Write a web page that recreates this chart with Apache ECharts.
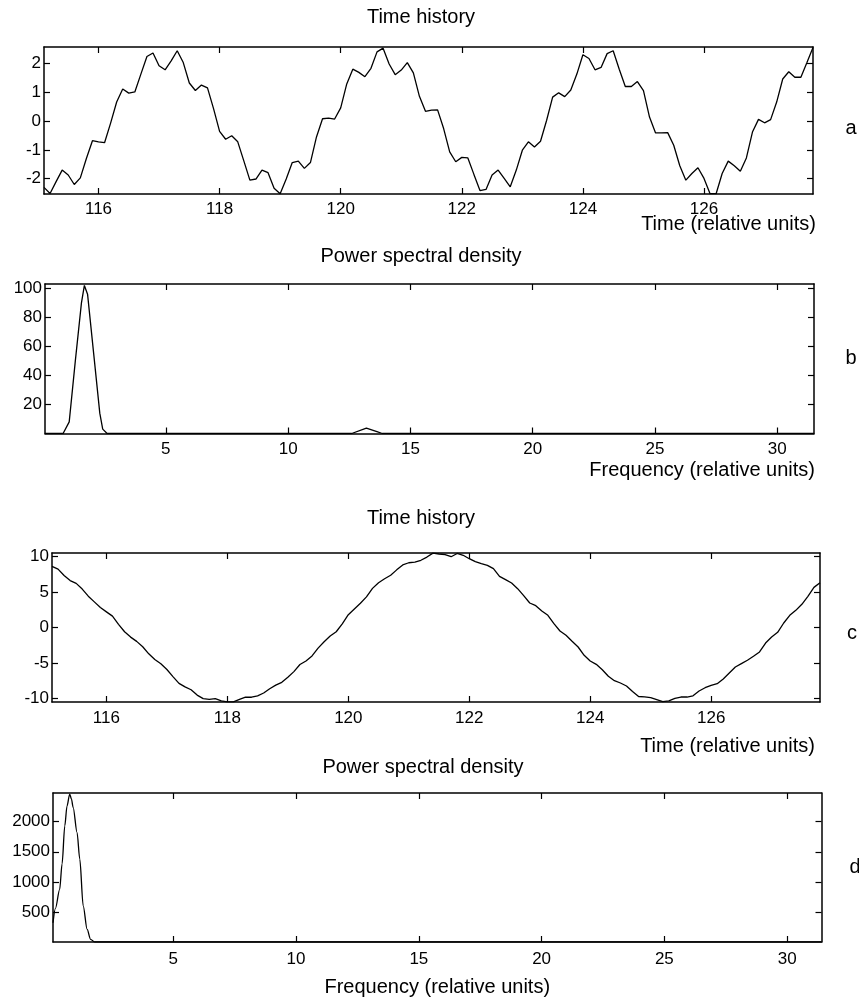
<!DOCTYPE html>
<html>
<head>
<meta charset="utf-8">
<title>Time history and power spectral density</title>
<script src="https://cdn.jsdelivr.net/npm/echarts@6/dist/echarts.min.js"></script>
<style>
  html, body { margin: 0; padding: 0; background: #fff; }
  #chart { width: 859px; height: 1005px; }
</style>
</head>
<body>
<div id="chart"></div>
<script>
// time histories are sampled every 0.1 from 115.1 to 127.8
var T_START = 115.1
var T_STEP = 0.1

var histA = [
  -2.30, -2.51, -2.10, -1.70, -1.87, -2.20, -1.97, -1.30, -0.68, -0.72,
  -0.75, -0.07, 0.66, 1.11, 0.97, 1.01, 1.63, 2.24, 2.36, 1.92,
  1.78, 2.09, 2.44, 2.03, 1.32, 1.06, 1.25, 1.15, 0.43, -0.36,
  -0.63, -0.51, -0.72, -1.38, -2.05, -2.01, -1.70, -1.79, -2.33, -2.52,
  -2.01, -1.44, -1.39, -1.64, -1.44, -0.55, 0.08, 0.10, 0.07, 0.46,
  1.29, 1.80, 1.69, 1.54, 1.83, 2.40, 2.53, 1.98, 1.61, 1.77,
  2.03, 1.67, 0.86, 0.34, 0.38, 0.39, -0.26, -1.07, -1.41, -1.26,
  -1.28, -1.85, -2.41, -2.37, -1.87, -1.70, -1.99, -2.28, -1.70, -1.01,
  -0.72, -0.90, -0.70, 0.02, 0.83, 0.98, 0.85, 1.08, 1.63, 2.30,
  2.17, 1.78, 1.86, 2.34, 2.44, 1.80, 1.20, 1.20, 1.37, 1.06,
  0.14, -0.41, -0.41, -0.40, -0.84, -1.55, -2.05, -1.82, -1.62, -1.99,
  -2.52, -2.52, -1.82, -1.39, -1.55, -1.74, -1.28, -0.38, 0.06, -0.06,
  0.05, 0.66, 1.46, 1.71, 1.52, 1.52, 2.03, 2.55
]

var histC = [
  8.6, 8.2, 7.3, 6.6, 6.2, 5.4, 4.4, 3.6, 2.8, 2.2,
  1.6, 0.45, -0.6, -1.35, -1.95, -2.7, -3.7, -4.5, -5.1, -5.9,
  -6.9, -7.85, -8.35, -8.75, -9.5, -10.0, -10.1, -10.0, -10.3, -10.45,
  -10.45, -10.1, -9.8, -9.8, -9.6, -9.2, -8.6, -8.1, -7.7, -7.0,
  -6.2, -5.2, -4.7, -4.0, -2.9, -2.0, -1.2, -0.6, 0.5, 1.8,
  2.6, 3.4, 4.3, 5.5, 6.3, 6.85, 7.35, 8.1, 8.8, 9.1,
  9.2, 9.45, 9.9, 10.45, 10.33, 10.23, 9.95, 10.4, 10.15, 9.67,
  9.25, 8.97, 8.74, 8.27, 7.19, 6.72, 6.25, 5.46, 4.48, 3.44,
  3.07, 2.32, 1.71, 0.54, -0.49, -1.1, -1.94, -2.74, -3.91, -4.71,
  -5.18, -5.93, -6.86, -7.47, -7.8, -8.22, -9.0, -9.7, -9.75, -9.86,
  -10.14, -10.42, -10.3, -9.95, -9.77, -9.77, -9.6, -8.93, -8.46, -8.13,
  -7.9, -7.24, -6.39, -5.55, -5.08, -4.61, -4.05, -3.44, -2.18, -1.34,
  -0.68, 0.63, 1.71, 2.41, 3.26, 4.38, 5.64, 6.3
]

var freqB = [0.06, 0.8, 1.05, 1.3, 1.55, 1.67, 1.8, 2.05, 2.3, 2.42, 2.6, 12.6, 13.2, 13.63, 13.85, 31.5]
var psdB = [0, 0, 8, 50, 90, 102, 96, 55, 14, 3, 0, 0, 3.7, 1.3, 0, 0]

var freqD = [0.1, 0.2, 0.37, 0.47, 0.58, 0.67, 0.78, 0.85, 0.92, 1.08, 1.19, 1.33, 1.49, 1.63, 1.8, 31.4]
var psdD = [320, 560, 870, 1300, 1930, 2260, 2460, 2380, 2240, 1820, 1380, 600, 210, 45, 0, 0]

var timeTicks = [116, 118, 120, 122, 124, 126]
var freqTicks = [5, 10, 15, 20, 25, 30]
var ticksA = [-2, -1, 0, 1, 2]
var ticksB = [20, 40, 60, 80, 100]
var ticksC = [-10, -5, 0, 5, 10]
var ticksD = [500, 1000, 1500, 2000]

var FONT = '"Liberation Sans", Arial, Helvetica, sans-serif'

function timePairs(vals) {
  return vals.map(function (v, i) {
    return [+(T_START + i * T_STEP).toFixed(1), v]
  })
}

function zipPairs(xs, ys) {
  return xs.map(function (x, i) { return [x, ys[i]] })
}

// one boxed panel: position, ranges, ticks and the axis title
var panels = [
  { left: 44, top: 47, width: 769, height: 147, xMin: 115.1, xMax: 127.8, yMin: -2.53, yMax: 2.57,
    xTicks: timeTicks, yTicks: ticksA, data: timePairs(histA), labelGap: 7,
    name: 'Time (relative units)', nameAt: 'end', nameGap: 3, namePad: 20 },
  { left: 45, top: 284, width: 769, height: 149.5, xMin: 0.06, xMax: 31.5, yMin: 0, yMax: 103,
    xTicks: freqTicks, yTicks: ticksB, data: zipPairs(freqB, psdB), labelGap: 7,
    name: 'Frequency (relative units)', nameAt: 'end', nameGap: 1, namePad: 27 },
  { left: 52, top: 553, width: 768, height: 149, xMin: 115.1, xMax: 127.8, yMin: -10.47, yMax: 10.47,
    xTicks: timeTicks, yTicks: ticksC, data: timePairs(histC), labelGap: 8,
    name: 'Time (relative units)', nameAt: 'end', nameGap: -5, namePad: 34 },
  { left: 53, top: 793, width: 768.5, height: 149, xMin: 0.1, xMax: 31.4, yMin: 0, yMax: 2478,
    xTicks: freqTicks, yTicks: ticksD, data: zipPairs(freqD, psdD), labelGap: 9, smooth: 0.3,
    name: 'Frequency (relative units)', nameAt: 'middle', nameGap: 35, namePad: 0 }
]

var titles = [
  { text: 'Time history', x: 421, y: 17 },
  { text: 'Power spectral density', x: 421, y: 256 },
  { text: 'Time history', x: 421, y: 518 },
  { text: 'Power spectral density', x: 423, y: 767 },
  { text: 'a', x: 851, y: 128 },
  { text: 'b', x: 851, y: 358 },
  { text: 'c', x: 852, y: 633 },
  { text: 'd', x: 855, y: 867 }
]

var lineStyle = { color: '#000', width: 1.5 }
var tickStyle = { color: '#000', width: 1.2 }
var labelStyle = {
  color: '#000', fontSize: 17, fontFamily: FONT,
  formatter: function (v) { return String(v) }
}

var grids = []
var xAxes = []
var yAxes = []
var series = []

panels.forEach(function (p, gi) {
  grids.push({
    left: p.left, top: p.top, width: p.width, height: p.height,
    containLabel: false, outerBoundsMode: 'none'
  })

  var bottomAxis = {
    type: 'value', gridIndex: gi, position: 'bottom', min: p.xMin, max: p.xMax,
    axisLine: { show: true, onZero: false, lineStyle: lineStyle },
    axisTick: { show: true, inside: true, length: 6, customValues: p.xTicks, lineStyle: tickStyle },
    axisLabel: Object.assign({ show: true, customValues: p.xTicks, margin: p.labelGap }, labelStyle),
    splitLine: { show: false },
    name: p.name,
    nameLocation: p.nameAt,
    nameGap: p.nameGap,
    nameMoveOverlap: false,
    nameTextStyle: p.nameAt === 'end'
      ? { color: '#000', fontSize: 20, fontFamily: FONT, align: 'right', verticalAlign: 'top', padding: [p.namePad, 0, 0, 0] }
      : { color: '#000', fontSize: 20, fontFamily: FONT }
  }
  var topAxis = {
    type: 'value', gridIndex: gi, position: 'top', min: p.xMin, max: p.xMax,
    axisLine: { show: true, onZero: false, lineStyle: lineStyle },
    axisTick: { show: true, inside: true, length: 6, customValues: p.xTicks, lineStyle: tickStyle },
    axisLabel: { show: false },
    splitLine: { show: false }
  }
  var leftAxis = {
    type: 'value', gridIndex: gi, position: 'left', min: p.yMin, max: p.yMax,
    axisLine: { show: true, onZero: false, lineStyle: lineStyle },
    axisTick: { show: true, inside: true, length: 6, customValues: p.yTicks, lineStyle: tickStyle },
    axisLabel: Object.assign({ show: true, customValues: p.yTicks, margin: 3 }, labelStyle),
    splitLine: { show: false }
  }
  var rightAxis = {
    type: 'value', gridIndex: gi, position: 'right', min: p.yMin, max: p.yMax,
    axisLine: { show: true, onZero: false, lineStyle: lineStyle },
    axisTick: { show: true, inside: true, length: 6, customValues: p.yTicks, lineStyle: tickStyle },
    axisLabel: { show: false },
    splitLine: { show: false }
  }
  xAxes.push(bottomAxis, topAxis)
  yAxes.push(leftAxis, rightAxis)

  series.push({
    type: 'line',
    xAxisIndex: gi * 2,
    yAxisIndex: gi * 2,
    data: p.data,
    symbol: 'none',
    smooth: p.smooth || false,
    smoothMonotone: 'x',
    clip: true,
    silent: true,
    lineStyle: { color: '#000', width: 1.3 }
  })
})

var chart = echarts.init(document.getElementById('chart'), null, { renderer: 'canvas' })
chart.setOption({
  animation: false,
  backgroundColor: '#fff',
  grid: grids,
  xAxis: xAxes,
  yAxis: yAxes,
  series: series,
  graphic: titles.map(function (t) {
    return {
      type: 'text', x: t.x, y: t.y, silent: true,
      style: { text: t.text, fill: '#000', font: '20px ' + FONT, textAlign: 'center', textVerticalAlign: 'middle' }
    }
  })
})
</script>
</body>
</html>
